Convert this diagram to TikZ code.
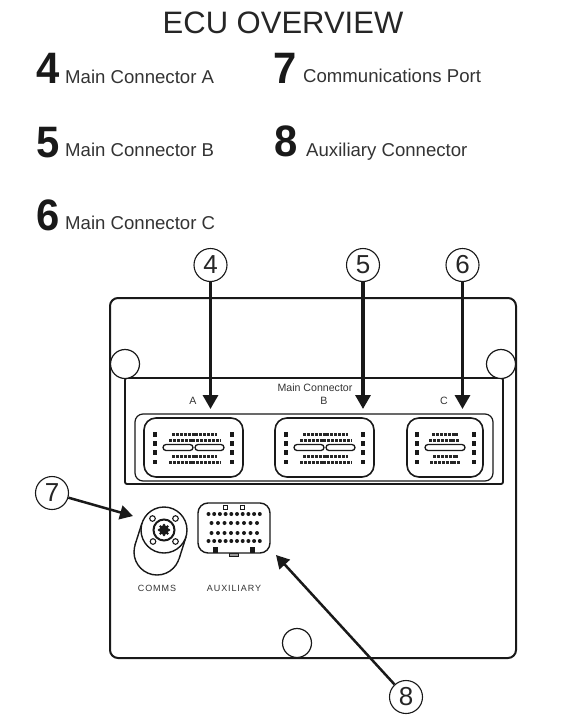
\documentclass[tikz,border=0pt]{standalone}
\usepackage{fontspec}
\setmainfont{Liberation Sans}
\usetikzlibrary{positioning,arrows.meta}

\newcommand{\bignum}[1]{\scalebox{.95}[1]{\fontsize{44}{44}\selectfont\bfseries #1}}

\begin{document}
\begin{tikzpicture}[
    x=1pt, y=-1pt,
    % Heading and key styles
    heading/.style={inner sep=0pt, anchor=base, font=\fontsize{31}{33}\selectfont, text=black!85},
    keynum/.style={inner sep=0pt, anchor=base west, text=black!90},
    keytext/.style={inner sep=0pt, anchor=base west, font=\fontsize{18.6}{20}\selectfont, text=black!80},
    % Board outlines
    board/.style={draw=black!90, line width=2pt, rounded corners=8pt},
    panel/.style={draw=black!90, line width=1.8pt, rounded corners=2pt},
    strip/.style={draw=black!90, line width=1.2pt, rounded corners=8pt},
    conn/.style={draw=black!90, line width=1.6pt, rounded corners=12pt},
    mount/.style={circle, draw=black!90, fill=white, line width=1.2pt, minimum size=29pt, inner sep=0pt},
    % Pins and slots
    pinrow/.style={draw=black!85, line width=3pt, dash pattern=on 3pt off .9pt},
    sidepin/.style={fill=black!90, minimum size=4.2pt, inner sep=0pt},
    slot/.style={draw=black!90, fill=white, line width=1.3pt, rounded corners=3pt},
    tinylabel/.style={inner sep=0pt, font=\fontsize{10.6}{12}\selectfont, text=black!80},
    portlabel/.style={inner sep=0pt, font=\addfontfeatures{LetterSpace=10}\fontsize{9}{10}\selectfont, text=black!80},
    % Callouts
    callout/.style={circle, draw=black!90, fill=white, line width=1.1pt, minimum size=33pt, inner sep=0pt, font=\fontsize{26}{28}\selectfont, text=black!85},
    callarrow/.style={draw=black!90, line width=3.2pt, -{Triangle[length=14pt,width=15pt]}},
    slantarrow/.style={draw=black!90, line width=2.5pt, -{Triangle[length=13pt,width=14pt]}}
]
\useasboundingbox (0,0) rectangle (582,720);

% Heading
\node[heading] (title) at (283,33) {ECU OVERVIEW};

% Key, left and right columns
\node[keynum] (n4) at (36,83) {\bignum{4}};
\node[keytext] (k4) at (65,83) {Main Connector A};
\node[keynum] (n5) at (36,157) {\bignum{5}};
\node[keytext] (k5) at (65,156) {Main Connector B};
\node[keynum] (n6) at (36,230) {\bignum{6}};
\node[keytext] (k6) at (65,229) {Main Connector C};
\node[keynum] (n7) at (273,83) {\bignum{7}};
\node[keytext] (k7) at (303,82) {Communications Port};
\node[keynum] (n8) at (274,156) {\bignum{8}};
\node[keytext] (k8) at (306,156) {Auxiliary Connector};

% Outer board
\draw[board] (110,298) rectangle (516,658);

% Panel with the three main connectors
\draw[panel] (125,378) -- (125,484) -- (503,484) -- (503,378) -- cycle;
\draw[strip] (135,414) rectangle (493,481);
\node[mount] (mtl) at (125,364) {};
\node[mount] (mtr) at (501,364) {};
\node[mount] (mtb) at (297,643) {};

\node[tinylabel] (mainlabel) at (315,388) {Main Connector};
\node[tinylabel] (la) at (193,401) {A};
\node[tinylabel] (lb) at (324,401) {B};
\node[tinylabel] (lc) at (444,401) {C};

% Connectors A and B share one layout
\foreach \cx in {144,275} {
  \begin{scope}[shift={(\cx,0)}]
    \draw[conn] (0,418) rectangle (99,477);
    \foreach \py in {434.5,443.5,452.5,462} {
      \node[sidepin] at (11,\py) {};
      \node[sidepin] at (88,\py) {};
    }
    \draw[pinrow] (28,434) -- (73,434);
    \draw[pinrow] (25,440) -- (76,440);
    \draw[pinrow] (28,456) -- (73,456);
    \draw[pinrow] (25,462) -- (76,462);
    \draw[slot] (19,444.5) rectangle (49,450.5);
    \draw[slot] (51,444.5) rectangle (80,450.5);
  \end{scope}
}

% Connector C
\draw[conn] (407,418) rectangle (483,477);
\foreach \py in {434.5,443.5,452.5,462} {
  \node[sidepin] at (417,\py) {};
  \node[sidepin] at (474,\py) {};
}
\draw[pinrow] (432,434) -- (458,434);
\draw[pinrow] (429,440) -- (460,440);
\draw[pinrow] (433,456) -- (458,456);
\draw[pinrow] (430,462) -- (460,462);
\draw[slot] (425,444.5) rectangle (465,450.5);

% Comms port: body behind, round face in front
\draw[black!90, line width=1.4pt, fill=white] (157,552) circle (23);
\fill[white] (135,545) -- (142,523) -- (186,537) -- (179,559) -- cycle;
\draw[black!90, line width=1.4pt] (135,545) -- (142,523);
\draw[black!90, line width=1.4pt] (179,559) -- (186,537);
\draw[black!90, line width=1.4pt, fill=white] (164,530) circle (23);
\draw[black!90, line width=2pt] (164,530) circle (10.5);
\fill[black!90] (164,530) circle (5);
\foreach \a in {0,45,...,315} \fill[black!90] (164,530) ++(\a:5) circle (1.4);
\foreach \dx/\dy in {-11.5/-11.5, 11.5/-11.5, -11/11.5, 11.5/11.5} \draw[black!90, line width=1.1pt] (164+\dx,530+\dy) circle (2.8);
\node[portlabel] (commslabel) at (157,588) {COMMS};

% Auxiliary connector
\draw[black!90, line width=.9pt, fill=black!40] (229,553) rectangle (238,556.5);
\draw[black!90, line width=1.4pt, rounded corners=10pt, fill=white] (198,503) rectangle (270,553);
\foreach \x in {225,242} \draw[black!90, line width=.9pt] (\x-2,505) rectangle (\x+2,509);
\foreach \x in {215,252} \fill[black!90] (\x-2.5,547) rectangle (\x+2.5,553);
\foreach \py in {514,541} \foreach \i in {0,...,9} \fill[black!90] (208.5+\i*5.7,\py) circle (2);
\foreach \py in {523,533} \foreach \i in {0,...,7} \fill[black!90] (211.5+\i*6.5,\py) circle (2);
\node[portlabel] (auxlabel) at (234,588) {AUXILIARY};

% Callouts with their arrows
\node[callout] (c4) at (210.5,265) {4};
\node[callout] (c5) at (363,265) {5};
\node[callout] (c6) at (462.5,265) {6};
\node[callout] (c7) at (52,493) {7};
\node[callout] (c8) at (406,697) {8};
\coordinate (t4) at (210.5,409);
\coordinate (t5) at (363,409);
\coordinate (t6) at (462.5,409);
\coordinate (t7) at (133,516);
\coordinate (t8) at (276,555);
\draw[callarrow] (c4) -- (t4);
\draw[callarrow] (c5) -- (t5);
\draw[callarrow] (c6) -- (t6);
\draw[slantarrow] (c7) -- (t7);
\draw[slantarrow] (c8) -- (t8);

\end{tikzpicture}
\end{document}
